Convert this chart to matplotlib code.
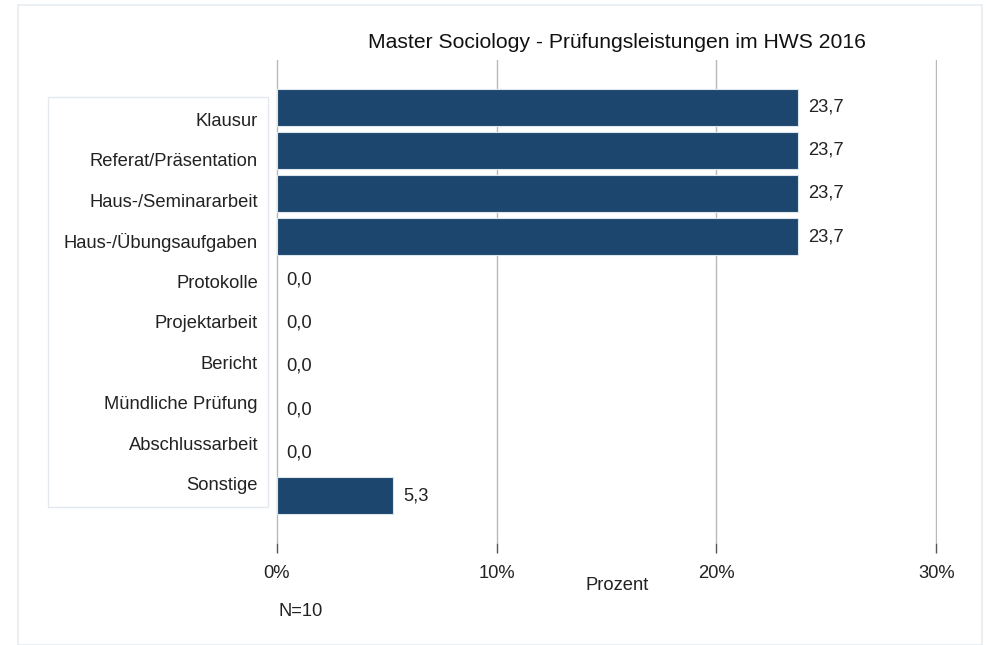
import matplotlib.pyplot as plt
from matplotlib.patches import Rectangle
import numpy as np

plt.rcParams["font.family"] = ["Liberation Sans", "DejaVu Sans"]

categories = ["Klausur", "Referat/Präsentation", "Haus-/Seminararbeit",
              "Haus-/Übungsaufgaben", "Protokolle", "Projektarbeit", "Bericht",
              "Mündliche Prüfung", "Abschlussarbeit", "Sonstige"]
values = [23.7, 23.7, 23.7, 23.7, 0.0, 0.0, 0.0, 0.0, 0.0, 5.3]
xticks = [0, 10, 20, 30]
xtick_labels = ["0%", "10%", "20%", "30%"]

W, H = 986, 645
FS = 13.2
fig = plt.figure(figsize=(W / 100, H / 100), dpi=100)

# outer frame
fig.patches.append(Rectangle((18 / W, 0), (982 - 18) / W, (H - 5) / H,
                             transform=fig.transFigure, fill=False,
                             edgecolor="#e6ecf1", linewidth=1.2))

# main plot region (pixel coords -> figure fractions)
left, right, top, bottom = 276, 937, 60, 543
ax = fig.add_axes([left / W, 1 - bottom / H, (right - left) / W, (bottom - top) / H])

pos = np.arange(len(categories))
edges = ["#dde5ec" if v > 0 else "none" for v in values]
ax.barh(pos, values, height=0.86, color="#1c466e", edgecolor=edges, linewidth=0.8, zorder=3)
for p, v in zip(pos, values):
    ax.text(v + 0.45, p, f"{v:.1f}".replace(".", ","), va="center", ha="left",
            fontsize=FS, color="#222222", zorder=4)

ax.set_xlim(-0.03, 30.03)
ax.set_ylim(len(categories) - 1 + 1.09, -1.09)
ax.set_yticks([])
ax.set_xticks(xticks)
ax.set_xticklabels(xtick_labels, fontsize=FS, color="#222222")
ax.tick_params(axis="x", length=7, width=1, color="#555555", pad=9)
ax.grid(axis="x", color="#b8b8b8", linewidth=1.0, zorder=0)
for s in ax.spines.values():
    s.set_visible(False)
ax.set_xlabel("Prozent", fontsize=FS, color="#222222")
ax.xaxis.set_label_coords((617 - left) / (right - left), -(586 - bottom) / (bottom - top))
ax.xaxis.label.set_va("center")

fig.text(0.5 * (368 + 866) / W, 1 - 43 / H, "Master Sociology - Prüfungsleistungen im HWS 2016",
         ha="center", va="center", fontsize=15.2, color="#111111")
fig.text(279 / W, 1 - 612 / H, "N=10", ha="left", va="center", fontsize=FS, color="#222222")

# label box at the left
bx0, bx1, by0, by1 = 48, 268, 97, 507
fig.patches.append(Rectangle((bx0 / W, 1 - by1 / H), (bx1 - bx0) / W, (by1 - by0) / H,
                             transform=fig.transFigure, fill=False,
                             edgecolor="#e3e9ee", linewidth=1.0))
step = (486 - 121) / (len(categories) - 1)
for i, c in enumerate(categories):
    fig.text(258 / W, 1 - (121 + i * step) / H, c, ha="right", va="center",
             fontsize=FS, color="#222222")

plt.savefig("out.png", dpi=100)
